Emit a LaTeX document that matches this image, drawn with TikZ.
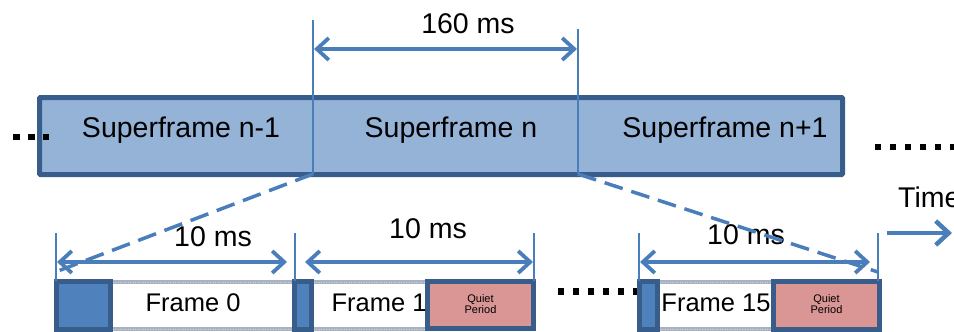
\documentclass[tikz,border=0pt]{standalone}
\usepackage{fontspec}
\setmainfont{Liberation Sans}
\usetikzlibrary{arrows.meta}

\definecolor{sfFill}{RGB}{149,179,215}
\definecolor{boxEdge}{RGB}{56,93,138}
\definecolor{lineBlue}{RGB}{74,126,187}
\definecolor{slotBlue}{RGB}{79,129,189}
\definecolor{quietPink}{RGB}{217,150,148}
\definecolor{bandGray}{RGB}{168,178,194}
\definecolor{bandLight}{RGB}{205,212,224}

\tikzset{
  barbtip/.tip={Straight Barb[length=12pt,width=22pt]},
  bigbarb/.tip={Straight Barb[length=13pt,width=24pt]},
  dimarrow/.style={draw=lineBlue,line width=3.8pt,barbtip-barbtip},
  timearrow/.style={draw=lineBlue,line width=4.5pt,-bigbarb},
  marker/.style={draw=lineBlue,line width=2.4pt},
  zoomline/.style={draw=lineBlue,line width=3.5pt,dash pattern=on 19pt off 9pt},
  sfbox/.style={draw=boxEdge,fill=sfFill,line width=5pt,rounded corners=1pt},
  slot/.style={draw=boxEdge,fill=slotBlue,line width=5pt},
  quiet/.style={draw=boxEdge,fill=quietPink,line width=5pt},
  band/.style={draw=bandGray,line width=3.5pt,
    postaction={draw=bandLight,line width=1pt,dash pattern=on 1pt off 1.5pt}},
  bigtxt/.style={inner sep=0pt,font=\fontsize{28.5}{32}\selectfont},
  frametxt/.style={inner sep=0pt,font=\fontsize{25.5}{29}\selectfont},
  smalltxt/.style={inner sep=0pt,align=center,font=\fontsize{11}{11.5}\selectfont},
  dot/.style={fill=black},
}

\begin{document}
\begin{tikzpicture}[x=1pt,y=-1pt]
\useasboundingbox (0,0) rectangle (954,332);
\clip (0,0) rectangle (954,332);

% ---- superframe bar ----
\draw[sfbox] (39.5,97.5) rectangle (842.5,174.5);
\node[bigtxt] (sf1) at (181,130) {Superframe n-1};
\node[bigtxt] (sf2) at (451,130) {Superframe n};
\node[bigtxt] (sf3) at (725,130) {Superframe n+1};

% superframe n boundaries
\coordinate (bL) at (313,174);
\coordinate (bLtop) at (313,20);
\coordinate (bR) at (578,174);
\coordinate (bRtop) at (578,29);
\draw[marker] (bLtop) -- (bL);
\draw[marker] (bRtop) -- (bR);

% 160 ms span
\coordinate (sA) at (314,49);
\coordinate (sB) at (577,49);
\draw[dimarrow] (sA) -- (sB);
\node[bigtxt] (t160) at (468,24) {160 ms};

% continuation dots
\foreach \x in {16.5,31.5,46} \fill[dot] (\x-3.2,133.8) rectangle (\x+3.2,140.2);
\foreach \x in {878,893,908,923,938,953} \fill[dot] (\x-3.2,143.8) rectangle (\x+3.2,150.2);
\foreach \x in {561,576,591,606,621,636} \fill[dot] (\x-3.2,288.3) rectangle (\x+3.2,294.7);

% time axis
\node[bigtxt,anchor=west] (time) at (898,197) {Time};
\coordinate (tA) at (887,233);
\coordinate (tB) at (952,233);
\draw[timearrow] (tA) -- (tB);

% ---- frames ----
% frame 0
\draw[band] (110,282) -- (294,282);
\draw[band] (110,329) -- (294,329);
\draw[slot] (56.5,281.5) rectangle (110.5,329.5);
\node[frametxt] (f0) at (193,303) {Frame 0};

% frame 1
\draw[band] (311,282) -- (428,282);
\draw[band] (311,329) -- (428,329);
\draw[slot] (294.5,281.5) rectangle (311.5,329.5);
\draw[quiet] (427.5,281.5) rectangle (533.5,328.5);
\node[frametxt] (f1) at (379,303) {Frame 1};
\node[smalltxt] (q1) at (480.5,304) {Quiet\\Period};

% frame 15
\draw[band] (657,282) -- (774,282);
\draw[band] (657,329) -- (774,329);
\draw[slot] (639.5,281.5) rectangle (657.5,329.5);
\draw[quiet] (773.5,281.5) rectangle (879.5,329.5);
\node[frametxt] (f15) at (716,303) {Frame 15};
\node[smalltxt] (q15) at (826.5,304) {Quiet\\Period};

% 10 ms markers and spans
\coordinate (m0a) at (56,233);   \coordinate (m0ab) at (56,281);
\coordinate (m0b) at (295,233);  \coordinate (m0bb) at (295,281);
\coordinate (m1b) at (534,233);  \coordinate (m1bb) at (534,281);
\coordinate (m2a) at (639,233);  \coordinate (m2ab) at (639,281);
\coordinate (m2b) at (878,233);  \coordinate (m2bb) at (878,281);
\foreach \p in {m0a,m0b,m1b,m2a,m2b} \draw[marker,line width=1.8pt] (\p) -- (\p b);

\coordinate (d0a) at (57,262);  \coordinate (d0b) at (287,262);
\coordinate (d1a) at (305,262); \coordinate (d1b) at (533,262);
\coordinate (d2a) at (640,262); \coordinate (d2b) at (870,262);
\draw[dimarrow] (d0a) -- (d0b);
\draw[dimarrow] (d1a) -- (d1b);
\draw[dimarrow] (d2a) -- (d2b);
\node[bigtxt] (t10a) at (213,237) {10 ms};
\node[bigtxt] (t10b) at (428,229) {10 ms};
\node[bigtxt] (t10c) at (746,235) {10 ms};

% zoom-in guides from superframe n to the frame row
\coordinate (zA) at (58,271);
\coordinate (zB) at (878,272);
\draw[zoomline] (bL) -- (zA);
\draw[zoomline] (bR) -- (zB);
\end{tikzpicture}
\end{document}
